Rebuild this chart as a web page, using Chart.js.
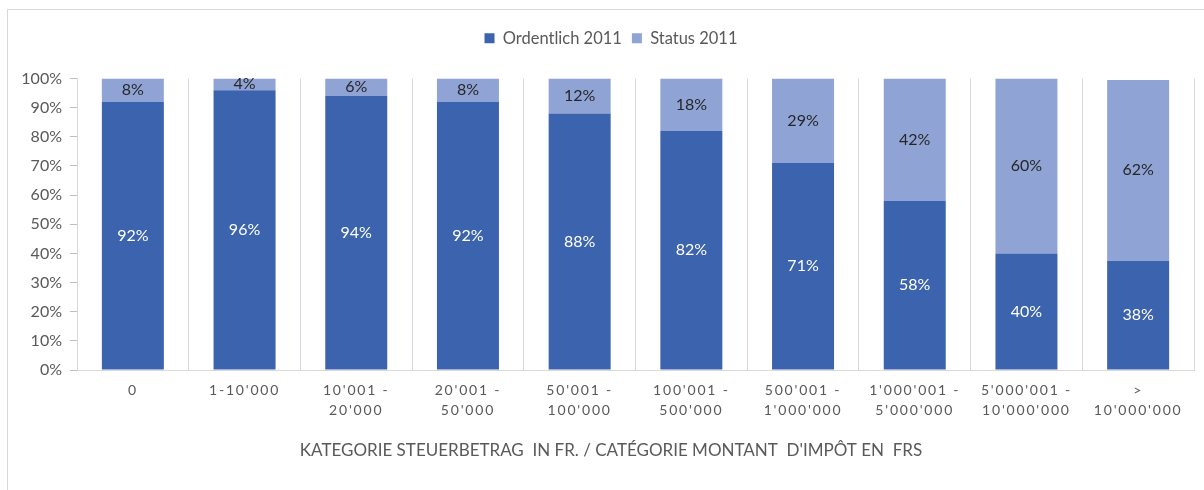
<!DOCTYPE html>
<html>
<head>
<meta charset="utf-8">
<script src="https://cdn.jsdelivr.net/npm/chart.js@4.4.1/dist/chart.umd.min.js"></script>
<style>
  html, body { margin: 0; padding: 0; background: #ffffff; }
  #wrap { position: relative; width: 1204px; height: 490px; }
  #frame { position: absolute; left: 7px; top: 9px; right: -2px; bottom: -2px; border-top: 1px solid #d9d9d9; border-left: 1px solid #d9d9d9; }
  canvas { position: absolute; left: 0; top: 0; }
</style>
</head>
<body>
<div id="wrap">
  <div id="frame"></div>
  <canvas id="c" width="1204" height="490"></canvas>
</div>
<script>
const categories = [
  '0',
  "1-10'000",
  ["10'001 -", "20'000"],
  ["20'001 -", "50'000"],
  ["50'001 -", "100'000"],
  ["100'001 -", "500'000"],
  ["500'001 -", "1'000'000"],
  ["1'000'001 -", "5'000'000"],
  ["5'000'001 -", "10'000'000"],
  [">", "10'000'000"]
];
const ordentlich2011 = [92, 96, 94, 92, 88, 82, 71, 58, 40, 37.5];
const status2011 = [8, 4, 6, 8, 12, 18, 29, 42, 60, 62];
const yTicks = [0, 10, 20, 30, 40, 50, 60, 70, 80, 90, 100];
const seriesNames = ['Ordentlich 2011', 'Status 2011'];
const axisTitle = "KATEGORIE STEUERBETRAG  IN FR. / CATÉGORIE MONTANT  D'IMPÔT EN  FRS";

const DARK = '#3c63ad';
const LIGHT = '#8fa4d5';
const GRID = '#d9d9d9';
const TEXT = '#595959';
const FONT = 'Lato';

const scalePatch = {
  id: 'scalePatch',
  beforeDraw(chart) {
    const s = chart.scales.x;
    if (s && !s._lsPatched) {
      const orig = s.drawLabels;
      s.drawLabels = function (area) {
        const c = this.ctx;
        c.save();
        c.letterSpacing = '1.8px';
        orig.call(this, area);
        c.restore();
      };
      s._lsPatched = true;
    }
    const y = chart.scales.y;
    if (y && !y._noClip) {
      y._computeLabelArea = function () { return undefined; };
      y._noClip = true;
    }
  }
};

const legendSpacer = {
  id: 'legendSpacer',
  beforeInit(chart) {
    const lg = chart.legend;
    if (lg) {
      const origFit = lg.fit;
      lg.fit = function () {
        origFit.call(this);
        this.height += 22;
      };
    }
  }
};

const barLabels = {
  id: 'barLabels',
  afterDatasetsDraw(chart) {
    const ctx = chart.ctx;
    ctx.save();
    ctx.font = '16px ' + FONT;
    ctx.textAlign = 'center';
    ctx.textBaseline = 'middle';
    chart.data.datasets.forEach((ds, di) => {
      const meta = chart.getDatasetMeta(di);
      meta.data.forEach((el, i) => {
        const v = ds.data[i];
        ctx.fillStyle = di === 0 ? '#ffffff' : '#262626';
        ctx.fillText(Math.round(v) + '%', el.x, (el.y + el.base) / 2);
      });
    });
    ctx.restore();
  }
};

new Chart(document.getElementById('c'), {
  type: 'bar',
  data: {
    labels: categories,
    datasets: [
      { label: seriesNames[0], data: ordentlich2011, backgroundColor: DARK, borderWidth: 0,
        categoryPercentage: 1, barPercentage: 0.555 },
      { label: seriesNames[1], data: status2011, backgroundColor: LIGHT, borderWidth: 0,
        categoryPercentage: 1, barPercentage: 0.555 }
    ]
  },
  options: {
    responsive: false,
    animation: false,
    layout: { padding: { top: 20, left: 28, right: 10, bottom: 29 } },
    plugins: {
      legend: {
        position: 'top',
        labels: { boxWidth: 10, boxHeight: 10, padding: 10, color: TEXT,
          font: { family: FONT, size: 16.5 } }
      },
      title: {
        display: true,
        position: 'bottom',
        text: axisTitle,
        color: TEXT,
        font: { family: FONT, size: 17, weight: 'normal' },
        padding: { top: 10, bottom: 0 }
      },
      tooltip: { enabled: false }
    },
    scales: {
      x: {
        stacked: true,
        grid: { display: true, offset: true, color: GRID, drawTicks: false },
        border: { display: true, color: GRID },
        ticks: { color: TEXT, font: { family: FONT, size: 14, lineHeight: 1.45 },
          padding: 10, maxRotation: 0, autoSkip: false }
      },
      y: {
        stacked: true,
        min: 0,
        max: 100,
        afterFit(scale) { scale.width = 49; },
        afterBuildTicks(scale) { scale.ticks = yTicks.map(v => ({ value: v })); },
        grid: { display: true, drawOnChartArea: false, drawTicks: true, tickLength: 7, color: '#bfbfbf' },
        border: { display: true, color: GRID },
        ticks: { color: TEXT, padding: 8, font: { family: FONT, size: 16 },
          callback: v => v + '%' }
      }
    }
  },
  plugins: [legendSpacer, scalePatch, barLabels]
});
</script>
</body>
</html>
